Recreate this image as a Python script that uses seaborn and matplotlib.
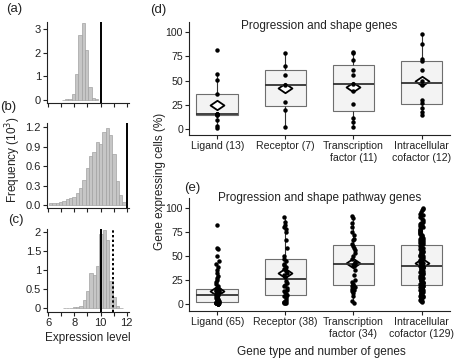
import numpy as np
import pandas as pd
import matplotlib
matplotlib.use("Agg")
import matplotlib.pyplot as plt
from matplotlib.path import Path
import seaborn as sns

# ---- histogram data (counts in thousands), bin width and first edge ----
BIN_W = 0.255
a_start = 7.03
a_counts = [0.01, 0.02, 0.05, 0.25, 1.08, 2.75, 3.27, 2.12, 0.56, 0.08, 0.03]
a_line = 10.05

b_start = 6.05
b_counts = [0.03, 0.03, 0.04, 0.05, 0.07, 0.10, 0.11, 0.13, 0.19, 0.27, 0.38, 0.57,
            0.76, 0.81, 0.97, 0.94, 1.13, 1.19, 1.07, 0.78, 0.37, 0.16, 0.05]
b_line = 12.03

c_start = 7.105
c_counts = [0.01, 0.015, 0.02, 0.025, 0.035, 0.06, 0.21, 0.45, 0.91, 0.87, 1.10,
            1.95, 2.05, 1.78, 0.70, 0.30, 0.06, 0.02]
c_line = 10.0
c_dotted = 10.93

hist_xticks = [6, 7, 8, 9, 10, 11, 12]
hist_xlabels = ["6", "", "8", "", "10", "", "12"]
a_yticks = [0, 1, 2, 3]
b_yticks = [0, 0.3, 0.6, 0.9, 1.2]
c_yticks = [0, 0.5, 1, 1.5, 2]
c_ylabels = ["0", "0.5", "1", "1.5", "2"]

# ---- box plot data ----
types = ["Ligand", "Receptor", "Transcription factor", "Intracellular cofactor"]
d_labels = ["Ligand (13)", "Receptor (7)", "Transcription\nfactor (11)", "Intracellular\ncofactor (12)"]
e_labels = ["Ligand (65)", "Receptor (38)", "Transcription\nfactor (34)", "Intracellular\ncofactor (129)"]

d_ligand = [82, 57, 51, 36, 16, 15, 15, 15, 14, 14, 9, 3, 1]
d_receptor = [78, 65, 56, 45, 28, 20, 2]
d_tf = [80, 78, 71, 61, 56, 46, 39, 26, 11, 7, 2]
d_ic = [98, 88, 72, 70, 61, 50, 45, 30, 27, 22, 18, 14]

e_ligand = [82, 58, 57, 50, 45, 42, 38, 35, 32, 29, 27, 25, 23, 21, 19, 17, 16,
            15.5, 15, 15, 14, 14, 13.5, 13, 12.5, 12, 11.5, 11, 10.5, 10, 9.5, 9, 9,
            8.5, 8, 7.5, 7, 6.5, 6, 5.5, 5, 4.5, 4, 3.5, 3, 3, 2.5, 2,
            2, 2, 1.5, 1.5, 1.5, 1.5, 1, 1, 1, 1, 0.5, 0.5, 0.5, 0, 0, 0, 0]
e_receptor = [90, 85, 82, 80, 78, 75, 66, 58, 50, 47, 45, 42, 40, 38, 36, 34, 32,
              30, 28, 24, 22, 20, 19, 17, 15, 13, 12, 10, 9, 8, 7, 5, 3, 2, 2, 1, 1, 1]
e_tf = [91, 89, 84, 80, 75, 72, 68, 66, 62, 60, 58, 56, 53, 50, 47, 44, 43, 41,
        39, 35, 30, 25, 23, 21, 20, 19, 18, 16, 15, 13, 11, 8, 3, 1]
e_ic = [2, 3, 3, 4, 5, 5, 6, 7, 7, 8, 8, 9, 10, 10, 11, 11, 12, 12, 13, 13,
        14, 14, 15, 15, 16, 16, 17, 17, 18, 18, 19, 19, 20,
        21, 21, 22, 22, 23, 23, 24, 25, 25, 26, 27, 27, 28, 29, 29, 30, 31, 31,
        32, 32, 33, 34, 34, 35, 35, 36, 36, 37, 37, 38, 38, 39,
        40, 40, 41, 42, 42, 43, 44, 44, 45, 46, 46, 47, 48, 48, 49, 50, 50, 51,
        52, 52, 53, 54, 54, 55, 56, 56, 57, 58, 58, 59, 60, 61,
        62, 63, 64, 65, 66, 67, 68, 69, 70, 71, 72, 73, 74, 75, 76, 77, 78, 80,
        81, 82, 83, 84, 85, 87, 88, 90, 92, 94, 96, 98, 99, 100]

pct_ticks = [0, 25, 50, 75, 100]

sns.set_style("ticks")
plt.rcParams["font.family"] = ["Liberation Sans", "DejaVu Sans"]
TXT = "#222222"

fig = plt.figure(figsize=(4.56, 3.58), dpi=100)


def hist_panel(rect, start, counts, yticks, ylim, ylabels=None, xlabels=None):
    ax = fig.add_axes(rect)
    edges = start + BIN_W * np.arange(len(counts) + 1)
    hist_df = pd.DataFrame({"level": edges[:-1] + BIN_W / 2, "freq": counts})
    sns.histplot(data=hist_df, x="level", weights="freq", bins=edges.tolist(), ax=ax,
                 color="#c6c6c6", edgecolor="#a2a2a2", linewidth=0.5, alpha=1)
    ax.set_xlim(5.92, 12.2)
    ax.set_ylim(*ylim)
    ax.set_xticks(hist_xticks)
    ax.set_xticklabels(xlabels if xlabels else [""] * len(hist_xticks))
    ax.set_yticks(yticks)
    if ylabels:
        ax.set_yticklabels(ylabels)
    ax.set_xlabel("")
    ax.set_ylabel("")
    ax.tick_params(labelsize=8, colors=TXT, length=3, width=0.8, pad=1.5)
    for s in ["top", "right"]:
        ax.spines[s].set_visible(False)
    for s in ["left", "bottom"]:
        ax.spines[s].set_color("#222222")
        ax.spines[s].set_linewidth(0.8)
    return ax


ax_a = hist_panel([0.1037, 0.7115, 0.1798, 0.2279], a_start, a_counts, a_yticks, (-0.14, 3.31))
ax_a.axvline(a_line, color="black", lw=1.4)
ax_b = hist_panel([0.1037, 0.4182, 0.1798, 0.2374], b_start, b_counts, b_yticks, (-0.046, 1.257))
ax_b.axvline(b_line, color="black", lw=1.4)
ax_c = hist_panel([0.1037, 0.1293, 0.1798, 0.2310], c_start, c_counts, c_yticks, (-0.089, 2.07),
                  ylabels=c_ylabels, xlabels=hist_xlabels)
ax_c.axvline(c_line, color="black", lw=1.4)
ax_c.axvline(c_dotted, color="black", lw=1.4, linestyle=(0, (1.2, 1.2)))

diamond = Path([(-1, 0), (0, 0.68), (1, 0), (0, -0.68), (-1, 0)],
               [Path.MOVETO, Path.LINETO, Path.LINETO, Path.LINETO, Path.CLOSEPOLY])


def box_panel(rect, groups, labels, ylim, title, title_y, jitter):
    df = pd.DataFrame({
        "type": np.concatenate([[t] * len(g) for t, g in zip(types, groups)]),
        "pct": np.concatenate(groups),
    })
    ax = fig.add_axes(rect)
    sns.boxplot(data=df, x="type", y="pct", order=types, ax=ax, width=0.61,
                color="#f3f3f3", saturation=1, linecolor="#6e6e6e", linewidth=0.8,
                showfliers=False, showcaps=False,
                medianprops={"color": "#333333", "linewidth": 1.3},
                whiskerprops={"color": "#333333", "linewidth": 0.8})
    sns.stripplot(data=df, x="type", y="pct", order=types, ax=ax, color="black",
                  size=3.2, jitter=jitter, linewidth=0)
    sns.pointplot(data=df, x="type", y="pct", order=types, ax=ax, estimator="mean",
                  errorbar=None, linestyle="none", marker=diamond, markersize=10,
                  color="white", markeredgecolor="black", markeredgewidth=1.3)
    ax.set_xlim(-0.41, 3.41)
    ax.set_ylim(*ylim)
    ax.set_yticks(pct_ticks)
    ax.set_xticks(range(len(types)))
    ax.set_xticklabels(labels)
    ax.set_xlabel("")
    ax.set_ylabel("")
    ax.tick_params(labelsize=7.6, colors=TXT, length=3, width=0.8, pad=1.5)
    for s in ["top", "right"]:
        ax.spines[s].set_visible(False)
    for s in ["left", "bottom"]:
        ax.spines[s].set_color("#222222")
        ax.spines[s].set_linewidth(0.8)
    ax.text(0.5, title_y, title, transform=ax.transAxes, ha="center", va="center",
            fontsize=8.5, color=TXT)
    return ax


np.random.seed(7)
box_panel([0.4151, 0.6229, 0.5708, 0.3165], [d_ligand, d_receptor, d_tf, d_ic], d_labels,
          (-6.2, 110.8), "Progression and shape genes", 0.962, False)
box_panel([0.4151, 0.1321, 0.5708, 0.3140], [e_ligand, e_receptor, e_tf, e_ic], e_labels,
          (-7, 109.8), "Progression and shape pathway genes", 1.0, 0.025)

# labels
fig.text(0.028, 0.553, "Frequency (10$^3$)", rotation=90, ha="center", va="center",
         fontsize=8.5, color=TXT)
fig.text(0.193, 0.056, "Expression level", ha="center", va="center", fontsize=8.5, color=TXT)
fig.text(0.351, 0.494, "Gene expressing cells (%)", rotation=90, ha="center", va="center",
         fontsize=8.5, color=TXT)
fig.text(0.705, 0.018, "Gene type and number of genes", ha="center", va="center",
         fontsize=8.5, color=TXT)

for lab, x, y in [("(a)", 0.031, 0.976), ("(b)", 0.017, 0.70), ("(c)", 0.034, 0.385),
                  ("(d)", 0.347, 0.972), ("(e)", 0.421, 0.476)]:
    fig.text(x, y, lab, ha="center", va="center", fontsize=9.5, color=TXT)

fig.savefig("out.png", dpi=100)
